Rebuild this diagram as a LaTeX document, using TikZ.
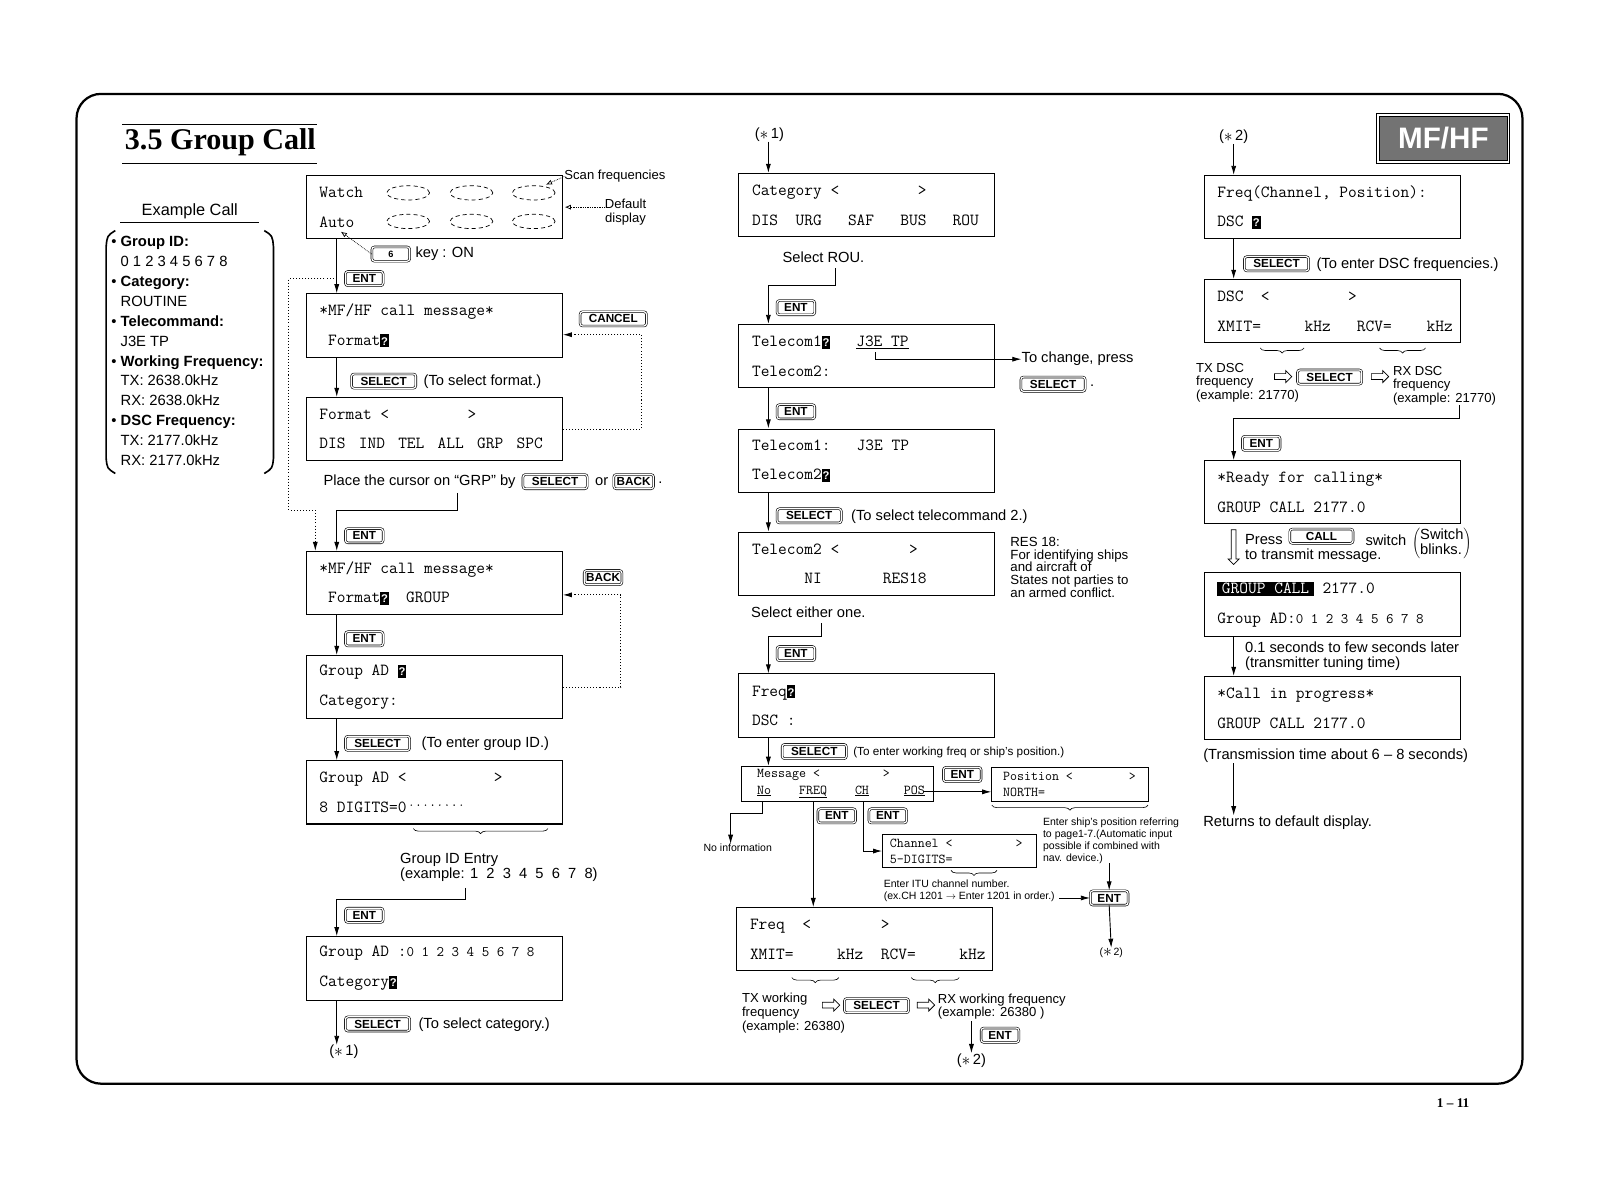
\documentclass[tikz,border=0pt]{standalone}
\usepackage{fontspec}
\setmainfont{Liberation Sans}
\newfontfamily\titlefont{Liberation Serif}
\usetikzlibrary{arrows.meta,positioning,shapes.arrows,decorations.pathreplacing}

% ~ gives one full character cell in the display fonts
\newcommand\lcdfont{\fontsize{16.6}{29}\selectfont\ttfamily\def~{\hphantom{x}}}
\newcommand\smlcdfont{\fontsize{13.3}{16}\selectfont\ttfamily\def~{\hphantom{x}}}
\newcommand\txtfont{\fontsize{14.4}{14}\selectfont}
\newcommand\notefont{\fontsize{12.8}{13.5}\selectfont}
\newcommand\smallfont{\fontsize{10.3}{12}\selectfont}
\newcommand\keyfont{\fontsize{11.5}{12}\selectfont\bfseries}
\newcommand\dig{\fontsize{14.3}{29}\selectfont}
\newcommand\ster{\raisebox{-1pt}{\fontsize{19}{19}\selectfont$\ast$}}
\newcommand\qcur{{\setlength\fboxsep{0.7pt}\colorbox{black}{\rule[-1.5pt]{0pt}{11.5pt}\textcolor{white}{\rmfamily\bfseries\fontsize{11}{11}\selectfont ?}}}}
\newcommand\inv[1]{{\setlength\fboxsep{1.5pt}\colorbox{black}{\hspace{3pt}\textcolor{white}{#1}\hspace{3pt}}}}
\newcommand\wsp{\hspace{13pt}}

\begin{document}
\begin{tikzpicture}[x=1pt, y=-1pt, >={Latex[length=9pt,width=5pt]},
  lcd/.style={draw, line width=1pt, text width=225pt, inner xsep=13pt, inner ysep=0pt, minimum height=62pt, align=left, font=\lcdfont},
  smlcd/.style={draw, line width=0.9pt, inner ysep=0pt, align=left, font=\smlcdfont},
  keybox/.style={draw, double, double distance=1.2pt, line width=0.6pt, rounded corners=2.5pt, font=\keyfont, minimum height=14pt, inner sep=0pt},
  entkey/.style={keybox, minimum width=37pt},
  selkey/.style={keybox, minimum width=63pt},
  txt/.style={font=\txtfont, inner sep=0pt, anchor=west, align=left},
  note/.style={font=\notefont, inner sep=0pt, anchor=west, align=left},
  smalltxt/.style={font=\smallfont, inner sep=0pt, anchor=west, align=left},
  flow/.style={->, line width=0.9pt},
  backline/.style={->, dotted, line width=1pt},
  hint/.style={densely dotted, line width=0.7pt, -{Latex[open,length=6pt,width=5pt]}},
  brc/.style={decorate, decoration={brace, mirror, amplitude=5pt}, line width=0.6pt},
  hollow/.style={draw, single arrow, single arrow head extend=3pt, minimum height=17pt, inner sep=2.5pt, line width=0.7pt},
]
\useasboundingbox (0,0) rectangle (1568,1153.5);

% page frame and heading
\draw[line width=2.2pt, rounded corners=24pt] (75,92) rectangle (1492,1062);
\node[font=\titlefont\bfseries\fontsize{29.5}{30}\selectfont] (title) at (216,139) {3.5 Group Call};
\draw[line width=1.3pt] (120,122) -- (311,122) (120,160) -- (311,160);
\node[draw, double, double distance=1.5pt, line width=1pt, fill=black!55, minimum width=128pt, minimum height=46pt, text=white, font=\fontsize{29}{30}\selectfont\bfseries] (band) at (1414.5,135.5) {MF/HF};
\node[font=\titlefont\bfseries\fontsize{13}{13}\selectfont] (pgno) at (1424,1081) {1 – 11};

% example call
\node[font=\fontsize{16}{16}\selectfont] (excall) at (186,207) {Example Call};
\draw[line width=0.8pt] (118,218) -- (254,218);
\node[font=\fontsize{14.5}{19.45}\selectfont, anchor=west, align=left, inner sep=0pt] (exlist) at (109,344)
  {• \textbf{Group ID:}\\\hspace*{9pt}0 1 2 3 4 5 6 7 8\\• \textbf{Category:}\\\hspace*{9pt}ROUTINE\\
   • \textbf{Telecommand:}\\\hspace*{9pt}J3E TP\\• \textbf{Working Frequency:}\\\hspace*{9pt}TX: 2638.0kHz\\
   \hspace*{9pt}RX: 2638.0kHz\\• \textbf{DSC Frequency:}\\\hspace*{9pt}TX: 2177.0kHz\\\hspace*{9pt}RX: 2177.0kHz};
\draw[line width=1.6pt] (113,226) .. controls (105,231) .. (104,242) -- (104,449) .. controls (105,459) .. (113,464);
\draw[line width=1.6pt] (259,226) .. controls (267,231) .. (268,242) -- (268,449) .. controls (267,459) .. (259,464);

% left column
\coordinate (lx) at (330,0);
\coordinate (lx2) at (309,0);
\node[lcd] (watch) at (425.5,203) {Watch\\Auto};
\foreach \ex in {400,462,523} \foreach \ey in {189,217}
  \draw[dash pattern=on 4pt off 3pt, line width=0.7pt] (\ex,\ey) ellipse [x radius=21pt, y radius=7pt];
\node[note] (scan) at (553,173) {Scan frequencies};
\draw[hint] (scan.west) -- (535,181);
\node[note, align=center, anchor=center] (dflt) at (613,207.5) {Default\\display};
\draw[hint] (dflt.west |- watch.east) -- ([xshift=2pt]watch.east);
\node[keybox, minimum width=37pt, font=\fontsize{9}{9}\selectfont\bfseries] (k6) at (383,249) {6};
\node[txt] (keyon) at (407,249) {key : ON};
\draw[hint] (k6.west) -- (334,227);

\node[entkey] (ent1) at (357,273) {ENT};
\node[lcd] (mhf1) at (425.5,319) {*MF/HF~call~message*\\~Format\qcur};
\draw[flow] (watch.south -| lx) -- (mhf1.north -| lx);
\node[keybox, minimum width=65pt] (cancel) at (601,312.5) {CANCEL};
\node[selkey] (sel1) at (376,373.5) {SELECT};
\node[txt] (sel1t) at (415,374) {(To select format.)};
\node[lcd] (fmt) at (425.5,420.5) {Format~<~~~~~~~~~>\\DIS\wsp IND\wsp TEL\wsp ALL\wsp GRP\wsp SPC};
\draw[flow] (mhf1.south -| lx) -- (fmt.north -| lx);
\draw[backline] (fmt.east) -- ++(77,0) |- ([yshift=-9pt]mhf1.east);
\node[txt] (place) at (317,472) {Place the cursor on “GRP” by};
\node[selkey] (sel2) at (544,472) {SELECT};
\node[txt] (ortxt) at (583,472) {or};
\node[keybox, minimum width=39pt] (back1) at (621,472) {BACK};
\node[txt] (dot1) at (645,473) {.};
\coordinate (j1) at (448,483);

\node[entkey] (ent2) at (357,525) {ENT};
\node[lcd] (mhf2) at (425.5,571.5) {*MF/HF~call~message*\\~Format\qcur~~GROUP};
\draw[flow] (j1) -- (448,500) -| (mhf2.north -| lx);
\draw[backline] (ent1.west -| lx) -| (283,500) -| (mhf2.north -| lx2);
\node[keybox, minimum width=37pt] (back2) at (591,566) {BACK};
\node[entkey] (ent3) at (357,626) {ENT};
\node[lcd] (grp1) at (425.5,673.5) {Group~AD~\qcur\\Category:};
\draw[flow] (mhf2.south -| lx) -- (grp1.north -| lx);
\draw[backline] (grp1.east) -- ++(57,0) |- ([yshift=-11.5pt]mhf2.east);
\node[selkey] (sel3) at (370,728.5) {SELECT};
\node[txt] (sel3t) at (413,729) {(To enter group ID.)};
\node[lcd] (grp2) at (425.5,776.5) {Group~AD~<~~~~~~~~~~>\\8~DIGITS=0};
\draw[flow] (grp1.south -| lx) -- (grp2.north -| lx);
\foreach \i in {0,...,7} \fill (403+\i*7,789) circle (0.8pt);
\draw[brc] (405,812) -- (537,812);
\node[txt] (gid) at (392,850) {Group ID Entry\\(example: 1\ \ 2\ \ 3\ \ 4\ \ 5\ \ 6\ \ 7\ \ 8)};
\coordinate (j2) at (456,870);
\node[entkey] (ent4) at (357,897) {ENT};
\node[lcd] (grp3) at (425.5,949) {Group~AD~:{\dig 0~1~2~3~4~5~6~7~8}\\Category\qcur};
\draw[flow] (j2) -- (456,881) -| (grp3.north -| lx);
\node[selkey] (sel4) at (370,1003.5) {SELECT};
\node[txt] (sel4t) at (410,1004) {(To select category.)};
\node[txt, anchor=center] (st1b) at (337,1031) {(\ster\,1)};
\draw[flow] (grp3.south -| lx) -- (st1b.north -| lx);

% middle column
\coordinate (mx) at (753,0);
\node[txt, anchor=center] (st1a) at (754,132) {(\ster\,1)};
\node[lcd] (cat) at (849.5,201) {Category~<~~~~~~~~~>\\DIS~~URG~~~SAF~~~BUS~~~ROU};
\draw[flow] (st1a.south -| mx) -- (cat.north -| mx);
\node[txt, anchor=center] (selrou) at (807,252) {Select ROU.};
\coordinate (j3) at (819,263);
\node[entkey] (ent5) at (780,301.5) {ENT};
\node[lcd] (tc1) at (849.5,349) {Telecom1\qcur~~~\underline{J3E~TP}\\Telecom2:};
\draw[flow] (j3) -- (819,280) -| (tc1.north -| mx);
\coordinate (j4) at (858,345);
\node[txt] (chg) at (1001,352) {To change, press};
\draw[flow] (j4) -- (858,352) -- (chg.west);
\node[selkey] (sel5) at (1032,376.5) {SELECT};
\node[txt] (dot2) at (1068,378) {.};
\node[entkey] (ent6) at (780,403.5) {ENT};
\node[lcd] (tc2) at (849.5,451.5) {Telecom1:~~~J3E~TP\\Telecom2\qcur};
\draw[flow] (tc1.south -| mx) -- (tc2.north -| mx);
\node[selkey] (sel6) at (793,505.5) {SELECT};
\node[txt] (sel6t) at (834,506) {(To select telecommand 2.)};
\node[lcd] (tc3) at (849.5,552.5) {Telecom2~<~~~~~~~~>\\~~~~~~NI~~~~~~~RES18};
\draw[flow] (tc2.south -| mx) -- (tc3.north -| mx);
\node[note, font=\fontsize{13}{12.5}\selectfont] (res) at (990,556) {RES 18:\\For identifying ships\\and aircraft of\\States not parties to\\an armed conflict.};
\node[txt] (either) at (736,600) {Select either one.};
\coordinate (j5) at (805,611);
\node[entkey] (ent7) at (780,640.5) {ENT};
\node[lcd] (frq1) at (849.5,691.5) {Freq\qcur\\DSC~:};
\draw[flow] (j5) -- (805,624) -| (frq1.north -| mx);
\node[selkey] (sel7) at (798,736.5) {SELECT};
\node[smalltxt, font=\fontsize{11.5}{12}\selectfont] (sel7t) at (836,737) {(To enter working freq or ship's position.)};
\node[smlcd, text width=158pt, inner xsep=15pt, minimum height=34pt] (msg) at (821,768)
  {Message~<~~~~~~~~~>\\\underline{No}~~~~\underline{FREQ}~~~~\underline{CH}~~~~~\underline{POS}};
\draw[flow] (frq1.south -| mx) -- (msg.north -| mx);
\node[entkey] (ent8) at (943,759) {ENT};
\node[smlcd, text width=131pt, inner xsep=11pt, minimum height=33pt] (pos) at (1048.5,768.5) {Position~<~~~~~~~~>\\NORTH=};
\coordinate (cpos) at (905,776);
\draw[flow] (cpos) -- (pos.west |- cpos);
\draw[brc] (972,789) -- (1125,789);
\node[smalltxt] (posnote) at (1022,824) {Enter ship's position referring\\to page1-7.(Automatic input\\possible if combined with\\nav. device.)};
\coordinate (j6) at (1087,846);
\node[entkey] (ent11) at (1087,880) {ENT};
\draw[flow] (j6) -- (ent11.north);
\node[smalltxt, anchor=center] (st2b) at (1089,934) {(\ster\,2)};
\draw[flow] (ent11.south) -- (st2b.north);
\coordinate (cno) at (747,785);
\node[smalltxt, anchor=center] (noinfo) at (723,831) {No information};
\draw[flow] (cno) -- (747,797) -| (noinfo.north -| 716,0);
\node[entkey] (ent9) at (820,799.5) {ENT};
\node[entkey] (ent10) at (870,799.5) {ENT};
\coordinate (cfreq) at (797,785);
\coordinate (cch) at (846,785);
\node[smlcd, text width=137pt, inner xsep=7pt, minimum height=32pt] (chn) at (940.5,834) {Channel~<~~~~~~~~~>\\5-DIGITS=};
\draw[flow] (cch) |- (chn.west);
\draw[brc] (932,853) -- (977,853);
\node[smalltxt] (itu) at (866,873) {Enter ITU channel number.\\(ex.CH 1201 $\to$ Enter 1201 in order.)};
\coordinate (j7) at (1038,880);
\draw[flow] (j7) -- (ent11.west);
\node[lcd] (frq2) at (847.5,920.5) {Freq~~<~~~~~~~~>\\XMIT=~~~~~kHz~~RCV=~~~~~kHz};
\draw[flow] (cfreq) -- (cfreq |- frq2.north);
\draw[brc] (776,958) -- (822,958);
\draw[brc] (893,958) -- (940,958);
\node[note] (txw) at (727,993) {TX working\\frequency\\(example: 26380)};
\node[hollow] (ha1) at (813,985) {};
\node[selkey] (sel8) at (859,985.5) {SELECT};
\node[hollow] (ha2) at (906,985) {};
\node[note] (rxw) at (919,986.5) {RX working frequency\\(example: 26380 )};
\coordinate (j8) at (952,1001);
\node[entkey] (ent12) at (980,1014.5) {ENT};
\node[txt, anchor=center] (st2c) at (952,1039) {(\ster\,2)};
\draw[flow] (j8) -- (st2c.north);

% right column
\coordinate (rx) at (1209,0);
\node[txt, anchor=center] (st2a) at (1209,134) {(\ster\,2)};
\node[lcd] (dsc1) at (1305.5,203) {Freq(Channel,~Position):\\DSC~\qcur};
\draw[flow] (st2a.south -| rx) -- (dsc1.north -| rx);
\node[selkey] (sel9) at (1251,258.5) {SELECT};
\node[txt] (sel9t) at (1290,259) {(To enter DSC frequencies.)};
\node[lcd] (dsc2) at (1305.5,305) {DSC~~<~~~~~~~~~>\\XMIT=~~~~~kHz~~~RCV=~~~~kHz};
\draw[flow] (dsc1.south -| rx) -- (dsc2.north -| rx);
\draw[brc] (1235,341) -- (1278,341);
\draw[brc] (1352,341) -- (1397,341);
\node[note] (txd) at (1172,375) {TX DSC\\frequency\\(example: 21770)};
\node[hollow] (ha3) at (1256,369) {};
\node[selkey] (sel10) at (1303,369.5) {SELECT};
\node[hollow] (ha4) at (1351,369) {};
\node[note] (rxd) at (1365,378) {RX DSC\\frequency\\(example: 21770)};
\coordinate (j9) at (1430,397);
\node[entkey] (ent13) at (1236,434.5) {ENT};
\node[lcd] (rdy) at (1305.5,482.5) {*Ready~for~calling*\\GROUP~CALL~2177.0};
\draw[flow] (j9) -- (1430,410) -| (rdy.north -| rx);
\node[hollow, rotate=-90, minimum height=34pt, inner sep=2pt] (ha5) at (1209,535) {};
\node[txt] (press) at (1220,529) {Press};
\node[keybox, minimum width=62pt] (callk) at (1295,525.5) {CALL};
\node[txt] (swt) at (1338,529) {switch};
\node[txt] (tomsg) at (1220,545) {to transmit message.};
\node[font=\txtfont, inner sep=0pt] (blink) at (1413,533) {$\left(\begin{tabular}{@{}l@{}}Switch\\blinks.\end{tabular}\right)$};
\node[lcd] (gcall) at (1305.5,592.5) {\inv{GROUP~CALL}~2177.0\\Group~AD:{\dig 0~1~2~3~4~5~6~7~8}};
\node[txt] (tune) at (1220,643) {0.1 seconds to few seconds later\\(transmitter tuning time)};
\node[lcd] (prog) at (1305.5,694) {*Call~in~progress*\\GROUP~CALL~2177.0};
\draw[flow] (gcall.south -| rx) -- (prog.north -| rx);
\node[txt] (ttime) at (1179,741) {(Transmission time about 6 – 8 seconds)};
\node[txt] (ret) at (1179,806) {Returns to default display.};
\draw[flow] (ttime.south -| rx) -- (ret.north -| rx);
\end{tikzpicture}
\end{document}
